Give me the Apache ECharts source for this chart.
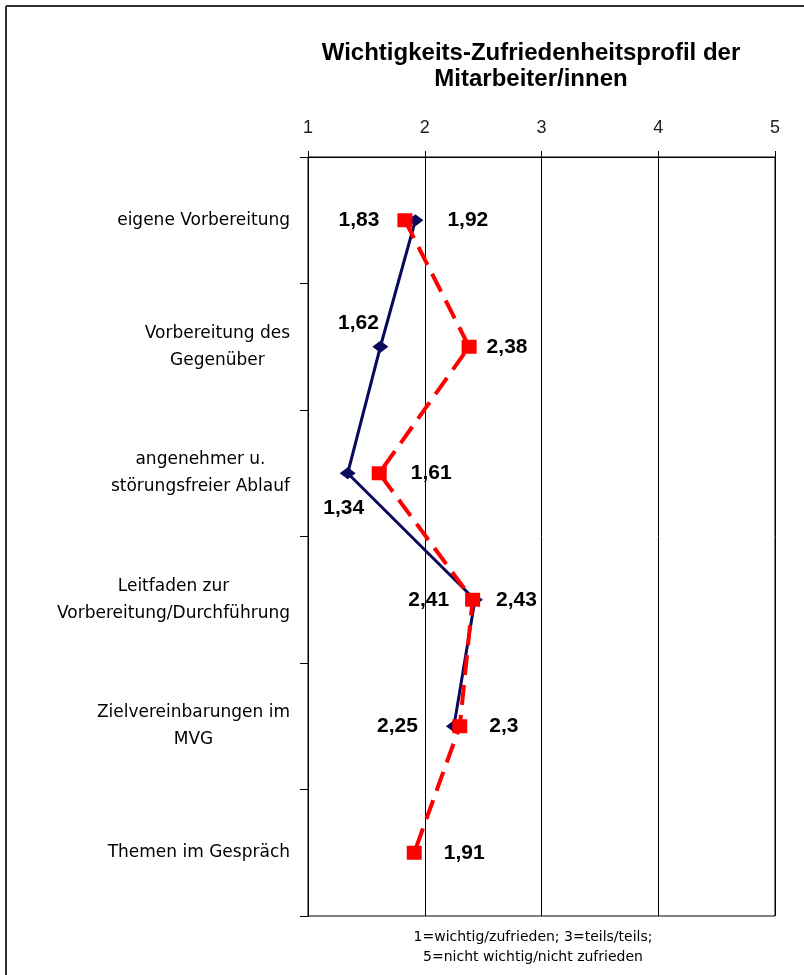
<!DOCTYPE html>
<html>
<head>
<meta charset="utf-8">
<script src="https://cdn.jsdelivr.net/npm/echarts@6/dist/echarts.min.js"></script>
<style>html,body{margin:0;padding:0;background:#fff;}#chart{width:804px;height:975px;}</style>
</head>
<body>
<div id="chart"></div>
<script>
const categories = [
  'eigene Vorbereitung',
  'Vorbereitung des\nGegenüber',
  'angenehmer u.\nstörungsfreier Ablauf',
  'Leitfaden zur\nVorbereitung/Durchführung',
  'Zielvereinbarungen im\nMVG',
  'Themen im Gespräch'
];
const seriesNavy = [1.92, 1.62, 1.34, 2.43, 2.25, null];
const seriesRed = [1.83, 2.38, 1.61, 2.41, 2.3, 1.91];
const xTicks = [1, 2, 3, 4, 5];
const titleText = 'Wichtigkeits-Zufriedenheitsprofil der\nMitarbeiter/innen';
const axisNote = '1=wichtig/zufrieden; 3=teils/teils;\n5=nicht wichtig/nicht zufrieden';

// label placement (style only)
const navyLabelStyle = [
  {position: 'right', distance: 24},
  {position: 'top', offset: [-22, -2]},
  {position: 'bottom', offset: [-4, 13]},
  {position: 'right', distance: 13},
  {position: 'left', distance: 28},
  null
];
const redLabelStyle = [
  {position: 'left', distance: 18},
  {position: 'right', distance: 10},
  {position: 'right', distance: 24},
  {position: 'left', distance: 16},
  {position: 'right', distance: 22},
  {position: 'right', distance: 22}
];

const fmt = v => String(v).replace('.', ',');
function build(values, styles) {
  return values.map((v, i) => {
    if (v === null) return null;
    const item = {value: v};
    if (styles[i]) item.label = Object.assign({show: true}, styles[i]);
    return item;
  });
}

// faint dotted background
const pat = document.createElement('canvas');
pat.width = 11; pat.height = 27;
const pctx = pat.getContext('2d');
pctx.fillStyle = '#ffffff';
pctx.fillRect(0, 0, 11, 27);
pctx.fillStyle = '#ebebeb';
pctx.fillRect(5, 13, 1, 1);

const chart = echarts.init(document.getElementById('chart'), null, {renderer: 'canvas'});
const labelFont = {fontFamily: 'Liberation Sans', fontWeight: 'bold', fontSize: 21, color: '#000'};

chart.setOption({
  backgroundColor: {image: pat, repeat: 'repeat'},
  animation: false,
  title: [
    {
      text: titleText,
      left: 531, top: 40, padding: 0,
      textAlign: 'center',
      textStyle: {fontFamily: 'Liberation Sans', fontWeight: 'bold', fontSize: 24, lineHeight: 26, color: '#000'}
    },
    {
      text: axisNote,
      left: 533, top: 927, padding: 0,
      textAlign: 'center',
      textStyle: {fontFamily: 'DejaVu Sans', fontWeight: 'normal', fontSize: 14, lineHeight: 20, color: '#000'}
    }
  ],
  grid: {left: 308, right: 29, top: 157, bottom: 59, show: true, borderColor: '#000', borderWidth: 1, backgroundColor: 'transparent'},
  xAxis: {
    type: 'value', position: 'top', min: 1, max: 5, interval: 1,
    axisLine: {show: true, lineStyle: {color: '#000', width: 1}},
    axisTick: {show: true, length: 6, lineStyle: {color: '#000'}},
    splitLine: {show: true, lineStyle: {color: '#000', width: 1}},
    axisLabel: {
      margin: 20, fontFamily: 'Liberation Sans', fontSize: 18, color: '#222',
      formatter: v => xTicks.includes(v) ? String(v) : ''
    }
  },
  yAxis: {
    type: 'category', data: categories, inverse: true, boundaryGap: true,
    axisLine: {show: true, lineStyle: {color: '#000', width: 1}},
    axisTick: {show: true, length: 8, alignWithLabel: false, lineStyle: {color: '#000'}},
    splitLine: {show: false},
    axisLabel: {
      margin: 18, align: 'right',
      formatter: v => v.split('\n').map(l => '{c|' + l + '}').join('\n'),
      rich: {c: {align: 'center', fontFamily: 'DejaVu Sans', fontSize: 17, lineHeight: 27, color: '#000'}}
    }
  },
  series: [
    {
      name: 'Reihe 1', type: 'line', data: build(seriesNavy, navyLabelStyle),
      connectNulls: false,
      symbol: 'diamond', symbolSize: [16, 12],
      lineStyle: {color: '#0a0a5c', width: 3},
      itemStyle: {color: '#0a0a5c'},
      label: Object.assign({show: true, formatter: p => fmt(p.value)}, labelFont),
      z: 2
    },
    {
      name: 'Reihe 2', type: 'line', data: build(seriesRed, redLabelStyle),
      symbol: 'rect', symbolSize: [15, 14],
      lineStyle: {color: '#ff0000', width: 4, type: [20, 10]},
      itemStyle: {color: '#ff0000'},
      label: Object.assign({show: true, formatter: p => fmt(p.value)}, labelFont),
      z: 3
    }
  ],
  graphic: [
    {type: 'line', shape: {x1: 6, y1: 6, x2: 804, y2: 6}, style: {stroke: '#333', lineWidth: 2}, silent: true},
    {type: 'line', shape: {x1: 6, y1: 6, x2: 6, y2: 975}, style: {stroke: '#333', lineWidth: 2}, silent: true}
  ]
});
</script>
</body>
</html>
